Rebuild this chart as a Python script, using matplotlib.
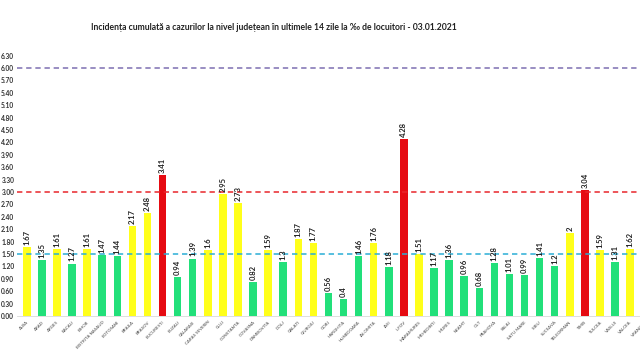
import matplotlib
matplotlib.use('Agg')
from matplotlib import pyplot as plt
import numpy as np

# judete si incidenta la 14 zile (la mia de locuitori)
judete = ['ALBA', 'ARAD', 'ARGES', 'BACAU', 'BIHOR', 'BISTRITA NASAUD', 'BOTOSANI',
          'BRAILA', 'BRASOV', 'BUCURESTI', 'BUZAU', 'CALARASI', 'CARAS SEVERIN', 'CLUJ',
          'CONSTANTA', 'COVASNA', 'DAMBOVITA', 'DOLJ', 'GALATI', 'GIURGIU', 'GORJ',
          'HARGHITA', 'HUNEDOARA', 'IALOMITA', 'IASI', 'ILFOV', 'MARAMURES', 'MEHEDINTI',
          'MURES', 'NEAMT', 'OLT', 'PRAHOVA', 'SALAJ', 'SATU MARE', 'SIBIU', 'SUCEAVA',
          'TELEORMAN', 'TIMIS', 'TULCEA', 'VASLUI', 'VALCEA', 'VRANCEA']
incidenta = [1.67, 1.35, 1.61, 1.27, 1.61, 1.47, 1.44, 2.17, 2.48, 3.41, 0.94, 1.39,
             1.6, 2.95, 2.73, 0.82, 1.59, 1.3, 1.87, 1.77, 0.56, 0.4, 1.46, 1.76, 1.18,
             4.28, 1.51, 1.17, 1.36, 0.96, 0.68, 1.28, 1.01, 0.99, 1.41, 1.2, 2, 3.04,
             1.59, 1.31, 1.62, 1.55]
praguri = [1.5, 3.0, 6.0]
yticks = np.arange(0, 6.31, 0.3)

plt.rcParams['font.family'] = ['Lato', 'DejaVu Sans']

def culoare(v):
    if v > 3:
        return '#e60b12'
    if v >= 1.5:
        return '#ffff1a'
    return '#22e07a'

fig = plt.figure(figsize=(6.4, 3.59), dpi=100)
# axa iese putin din imagine in dreapta (VRANCEA e taiat ca in original)
ax = fig.add_axes([17/640, 43/359, 638/640, 260.4/359])

x = np.arange(len(judete))
ax.bar(x, incidenta, width=0.5, color=[culoare(v) for v in incidenta], zorder=2)
for xi, v in zip(x, incidenta):
    ax.text(xi, v + 0.05, f'{v:g}', rotation=90, ha='center', va='bottom',
            fontsize=5.5, fontweight='bold', color='#222222', zorder=4, clip_on=True)

ax.axhline(praguri[0], color='#2aaed6', ls=(0, (3.5, 2.5)), lw=1.1, zorder=3)
ax.axhline(praguri[1], color='#e8262b', ls=(0, (3.5, 2.5)), lw=1.1, zorder=3)
ax.axhline(praguri[2], color='#7d6fb2', ls=(0, (3.5, 2.5)), lw=1.1, zorder=3)

ax.set_xlim(-0.65, 41.65)
ax.set_ylim(0, 6.3)
ax.set_yticks(yticks)
ax.set_yticklabels([f'{t:.2f}' for t in yticks], fontsize=4.8, fontweight='bold', color='#333333')
ax.set_xticks(x)
ax.set_xticklabels(judete, rotation=45, ha='right', rotation_mode='anchor',
                   fontsize=3.2, color='#444444')
ax.tick_params(axis='y', length=0, pad=2)
ax.tick_params(axis='x', length=0, pad=3)
for s in ['top', 'right', 'left']:
    ax.spines[s].set_visible(False)
ax.spines['bottom'].set_color('#d9d9d9')
ax.spines['bottom'].set_linewidth(0.6)

fig.text(274/640, 1 - 27/359,
         'Incidența cumulată a cazurilor la nivel județean în ultimele 14 zile la ‰ de locuitori - 03.01.2021',
         ha='center', va='center', fontsize=6.2, fontweight='bold', color='#222222')

plt.savefig('out.png', dpi=100)
